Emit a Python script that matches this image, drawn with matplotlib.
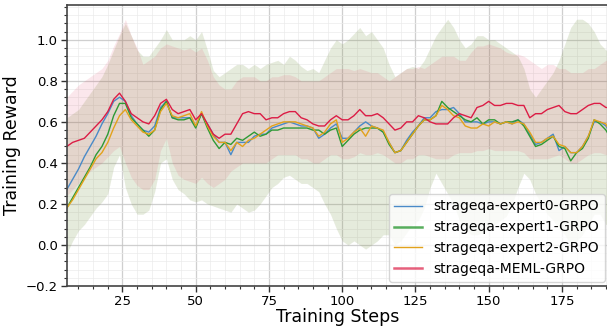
import numpy as np
import matplotlib
matplotlib.use("Agg")
import matplotlib.pyplot as plt
from matplotlib.ticker import AutoMinorLocator, MultipleLocator
from matplotlib.lines import Line2D

steps = list(range(6, 193, 2))

expert0 = [0.27, 0.32, 0.37, 0.43, 0.48, 0.53, 0.59, 0.64, 0.70, 0.72,
           0.70, 0.63, 0.59, 0.56, 0.55, 0.58, 0.67, 0.70, 0.62, 0.62,
           0.62, 0.62, 0.58, 0.64, 0.59, 0.54, 0.50, 0.50, 0.44, 0.50,
           0.50, 0.50, 0.53, 0.54, 0.54, 0.57, 0.58, 0.59, 0.60, 0.59,
           0.58, 0.58, 0.57, 0.52, 0.54, 0.57, 0.59, 0.52, 0.52, 0.55,
           0.58, 0.60, 0.58, 0.57, 0.55, 0.50, 0.45, 0.46, 0.51, 0.55,
           0.58, 0.62, 0.62, 0.65, 0.66, 0.66, 0.67, 0.64, 0.60, 0.60,
           0.60, 0.59, 0.60, 0.60, 0.59, 0.60, 0.59, 0.61, 0.59, 0.54,
           0.49, 0.50, 0.52, 0.54, 0.46, 0.48, 0.45, 0.45, 0.48, 0.53,
           0.60, 0.60, 0.58, 0.53]

expert1 = [0.18, 0.23, 0.28, 0.33, 0.38, 0.44, 0.48, 0.54, 0.63, 0.69,
           0.69, 0.62, 0.59, 0.56, 0.53, 0.56, 0.66, 0.70, 0.62, 0.61,
           0.61, 0.62, 0.57, 0.64, 0.57, 0.51, 0.47, 0.50, 0.49, 0.52,
           0.51, 0.53, 0.55, 0.53, 0.54, 0.56, 0.56, 0.57, 0.57, 0.57,
           0.57, 0.57, 0.56, 0.56, 0.54, 0.56, 0.57, 0.48, 0.51, 0.54,
           0.56, 0.57, 0.57, 0.57, 0.55, 0.49, 0.45, 0.46, 0.50, 0.54,
           0.58, 0.61, 0.61, 0.63, 0.70, 0.67, 0.65, 0.63, 0.61, 0.60,
           0.62, 0.59, 0.61, 0.61, 0.59, 0.60, 0.60, 0.61, 0.58, 0.53,
           0.48, 0.49, 0.51, 0.53, 0.48, 0.47, 0.41, 0.45, 0.47, 0.52,
           0.61, 0.59, 0.56, 0.51]

expert2 = [0.18, 0.22, 0.27, 0.32, 0.37, 0.42, 0.45, 0.50, 0.57, 0.63,
           0.66, 0.61, 0.58, 0.55, 0.54, 0.56, 0.65, 0.69, 0.63, 0.62,
           0.63, 0.64, 0.58, 0.65, 0.58, 0.53, 0.50, 0.50, 0.46, 0.50,
           0.48, 0.51, 0.52, 0.54, 0.56, 0.58, 0.59, 0.60, 0.60, 0.60,
           0.59, 0.58, 0.57, 0.53, 0.55, 0.59, 0.61, 0.50, 0.52, 0.55,
           0.57, 0.53, 0.58, 0.57, 0.56, 0.50, 0.45, 0.46, 0.50, 0.54,
           0.58, 0.61, 0.61, 0.63, 0.68, 0.66, 0.63, 0.62, 0.58, 0.57,
           0.57, 0.59, 0.58, 0.60, 0.59, 0.60, 0.59, 0.60, 0.59, 0.55,
           0.50, 0.50, 0.52, 0.53, 0.49, 0.48, 0.45, 0.45, 0.48, 0.53,
           0.61, 0.60, 0.59, 0.53]

meml = [0.48, 0.50, 0.51, 0.52, 0.55, 0.58, 0.61, 0.65, 0.71, 0.74,
        0.70, 0.64, 0.62, 0.60, 0.59, 0.63, 0.69, 0.71, 0.66, 0.64,
        0.65, 0.66, 0.61, 0.64, 0.59, 0.54, 0.52, 0.54, 0.54, 0.59,
        0.64, 0.65, 0.64, 0.64, 0.61, 0.62, 0.62, 0.64, 0.65, 0.65,
        0.62, 0.61, 0.59, 0.58, 0.58, 0.61, 0.63, 0.61, 0.61, 0.63,
        0.66, 0.63, 0.63, 0.64, 0.62, 0.59, 0.56, 0.57, 0.60, 0.60,
        0.63, 0.62, 0.60, 0.59, 0.59, 0.59, 0.62, 0.64, 0.63, 0.62,
        0.67, 0.68, 0.70, 0.68, 0.68, 0.69, 0.69, 0.68, 0.68, 0.62,
        0.64, 0.64, 0.66, 0.67, 0.68, 0.65, 0.64, 0.64, 0.66, 0.68,
        0.69, 0.69, 0.67, 0.67]

# shaded spread, upper / lower edges
expert_hi = [0.62, 0.64, 0.66, 0.70, 0.74, 0.78, 0.82, 0.88, 0.95, 1.02,
             1.08, 1.02, 0.95, 0.92, 0.92, 0.96, 1.00, 1.05, 1.00, 1.00,
             1.00, 1.02, 1.00, 1.04, 0.95, 0.85, 0.82, 0.84, 0.86, 0.88,
             0.88, 0.86, 0.88, 0.86, 0.88, 0.89, 0.90, 0.88, 0.92, 0.90,
             0.87, 0.85, 0.86, 0.84, 0.90, 0.96, 1.00, 0.98, 1.00, 1.03,
             1.06, 1.02, 1.04, 1.00, 0.96, 0.88, 0.82, 0.84, 0.86, 0.87,
             0.86, 0.90, 0.96, 1.02, 1.06, 1.10, 1.06, 1.00, 0.96, 0.98,
             1.02, 1.02, 1.00, 1.00, 0.98, 0.96, 0.94, 0.92, 0.86, 0.76,
             0.72, 0.76, 0.80, 0.84, 0.90, 0.98, 1.06, 1.10, 1.10, 1.08,
             1.04, 0.98, 0.95, 0.95]

expert_lo = [-0.04, 0.02, 0.07, 0.10, 0.14, 0.18, 0.21, 0.25, 0.38, 0.44,
             0.28, 0.20, 0.15, 0.15, 0.17, 0.26, 0.40, 0.42, 0.32, 0.27,
             0.25, 0.22, 0.21, 0.22, 0.20, 0.19, 0.18, 0.17, 0.16, 0.20,
             0.18, 0.16, 0.17, 0.20, 0.24, 0.28, 0.30, 0.33, 0.34, 0.32,
             0.30, 0.30, 0.28, 0.26, 0.20, 0.15, 0.08, 0.02, 0.00, 0.02,
             0.00, -0.02, 0.00, 0.02, 0.05, 0.05, 0.00, 0.02, 0.06, 0.10,
             0.12, 0.18, 0.28, 0.35, 0.30, 0.25, 0.20, 0.12, 0.08, 0.05,
             0.05, 0.06, 0.08, 0.10, 0.12, 0.14, 0.20, 0.28, 0.35, 0.32,
             0.25, 0.20, 0.15, 0.12, 0.08, 0.05, 0.00, 0.02, 0.05, 0.10,
             0.15, 0.15, 0.10, 0.10]

meml_hi = [0.72, 0.75, 0.78, 0.80, 0.82, 0.84, 0.86, 0.90, 0.97, 1.03,
           1.10, 1.02, 0.96, 0.88, 0.90, 0.92, 0.96, 0.98, 0.97, 0.96,
           0.95, 0.96, 0.94, 0.96, 0.90, 0.82, 0.78, 0.76, 0.76, 0.80,
           0.82, 0.82, 0.82, 0.80, 0.80, 0.82, 0.82, 0.83, 0.83, 0.82,
           0.80, 0.80, 0.80, 0.80, 0.82, 0.84, 0.86, 0.86, 0.86, 0.85,
           0.86, 0.85, 0.84, 0.84, 0.82, 0.80, 0.82, 0.84, 0.86, 0.86,
           0.87, 0.86, 0.88, 0.90, 0.92, 0.92, 0.92, 0.90, 0.90, 0.94,
           0.97, 0.97, 0.98, 0.97, 0.96, 0.94, 0.93, 0.93, 0.92, 0.90,
           0.88, 0.86, 0.88, 0.88, 0.86, 0.86, 0.84, 0.84, 0.84, 0.86,
           0.86, 0.88, 0.90, 0.90]

meml_lo = [0.24, 0.27, 0.30, 0.33, 0.36, 0.38, 0.40, 0.43, 0.46, 0.48,
           0.40, 0.33, 0.29, 0.27, 0.27, 0.32, 0.46, 0.52, 0.40, 0.34,
           0.32, 0.31, 0.30, 0.33, 0.30, 0.28, 0.30, 0.32, 0.36, 0.38,
           0.40, 0.40, 0.40, 0.40, 0.40, 0.42, 0.44, 0.44, 0.44, 0.44,
           0.42, 0.42, 0.40, 0.40, 0.42, 0.44, 0.44, 0.42, 0.42, 0.43,
           0.45, 0.44, 0.44, 0.45, 0.44, 0.42, 0.40, 0.40, 0.42, 0.42,
           0.44, 0.44, 0.43, 0.42, 0.42, 0.42, 0.44, 0.45, 0.45, 0.45,
           0.46, 0.46, 0.47, 0.46, 0.46, 0.46, 0.46, 0.46, 0.45, 0.42,
           0.42, 0.42, 0.42, 0.43, 0.44, 0.42, 0.40, 0.40, 0.42, 0.44,
           0.45, 0.45, 0.44, 0.44]

labels = ["strageqa-expert0-GRPO", "strageqa-expert1-GRPO",
          "strageqa-expert2-GRPO", "strageqa-MEML-GRPO"]
colors = ["#4a8ac8", "#2e9a35", "#e2a21c", "#dc1c45"]


def main():
    fig = plt.figure(figsize=(6.07, 3.28), dpi=100)
    ax = fig.add_axes([0.110, 0.128, 0.893, 0.857])

    x = np.array(steps)
    means = [expert0, expert1, expert2, meml]
    his = [expert_hi, expert_hi, expert_hi, meml_hi]
    los = [expert_lo, expert_lo, expert_lo, meml_lo]
    band_alpha = [0.05, 0.07, 0.08, 0.10]

    for hi, lo, c, a in zip(his, los, colors, band_alpha):
        ax.fill_between(x, lo, hi, color=c, alpha=a, linewidth=0)

    for m, c in zip(means, colors):
        ax.plot(x, m, color=c, linewidth=1.0)

    ax.set_xlim(6, 191)
    ax.set_ylim(-0.2, 1.17)
    ax.xaxis.set_major_locator(MultipleLocator(25))
    ax.yaxis.set_major_locator(MultipleLocator(0.2))
    ax.xaxis.set_minor_locator(AutoMinorLocator(5))
    ax.yaxis.set_minor_locator(AutoMinorLocator(5))

    ax.grid(which="major", color="#c4c4c4", linewidth=0.9, alpha=0.8)
    ax.grid(which="minor", color="#ebebeb", linewidth=0.5)
    ax.set_axisbelow(True)

    for s in ax.spines.values():
        s.set_color("#444444")
        s.set_linewidth(1.2)
    ax.tick_params(which="major", length=4, width=1, labelsize=9.5,
                   color="#333333", pad=2.5)
    ax.tick_params(which="minor", length=2, width=0.8, color="#333333")

    ax.set_xlabel("Training Steps", fontsize=12.5, labelpad=0)
    ax.set_ylabel("Training Reward", fontsize=12.5, labelpad=3)

    handles = [Line2D([], [], color=colors[0], linewidth=1.0),
               Line2D([], [], color=colors[1], linewidth=1.8, alpha=0.8),
               Line2D([], [], color=colors[2], linewidth=1.0),
               Line2D([], [], color=colors[3], linewidth=1.8, alpha=0.7)]
    ax.legend(handles, labels, loc="lower right", fontsize=10,
              framealpha=0.8, borderaxespad=0.3, handlelength=2.0)

    fig.savefig("out.png", dpi=100)


main()
